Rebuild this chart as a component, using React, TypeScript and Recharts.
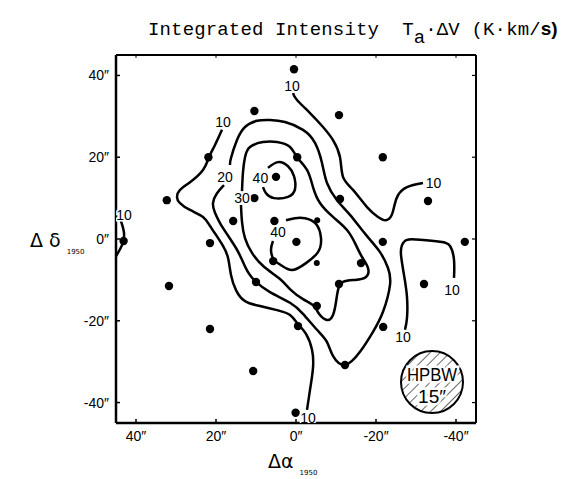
import { ComposedChart, XAxis, YAxis, Line, Scatter, ReferenceDot } from "recharts";

// offsets in arcsec, x = Δα (reversed), y = Δδ
const axisTicks = [-40, -20, 0, 20, 40];

const gridPoints = [
	{ x: 0.5, y: 41.5 }, { x: 10.4, y: 31.3 }, { x: -10.75, y: 30.3 },
	{ x: 21.9, y: 20 }, { x: -0.3, y: 20 }, { x: -21.7, y: 20 },
	{ x: 32.3, y: 9.5 }, { x: 10.4, y: 10 }, { x: -11, y: 9.8 }, { x: -33, y: 9.3 },
	{ x: 5, y: 15.2 }, { x: 15.7, y: 4.4 }, { x: 5.4, y: 4.4 },
	{ x: 43.1, y: -0.5 }, { x: 21.5, y: -1 }, { x: -0.1, y: -0.7 }, { x: -21.7, y: -0.7 }, { x: -42.2, y: -0.7 },
	{ x: 5.7, y: -5.4 }, { x: -16.25, y: -5.9 },
	{ x: 31.75, y: -11.5 }, { x: 10, y: -10.5 }, { x: -10.75, y: -11 }, { x: -32, y: -11 },
	{ x: -5.2, y: -16.4 },
	{ x: 21.5, y: -22 }, { x: -0.5, y: -21.3 }, { x: -21.8, y: -21.5 },
	{ x: 10.7, y: -32.3 }, { x: -12.25, y: -30.8 }, { x: 0.1, y: -42.5 },
];

const innerPoints = [{ x: -5.3, y: 4.6 }, { x: -5.2, y: -5.9 }];

// contour 10 (K km/s)
const contour10Top = [
	{ x: 0.75, y: 35.7 }, { x: -0.25, y: 34.0 }, { x: -3.5, y: 30.8 }, { x: -6.75, y: 27.4 },
	{ x: -9.25, y: 24.2 }, { x: -11, y: 20.0 }, { x: -11.75, y: 15.2 }, { x: -14.25, y: 12.0 },
	{ x: -17.75, y: 7.8 }, { x: -20.5, y: 5.4 }, { x: -22.5, y: 4.6 }, { x: -23.9, y: 5.8 },
	{ x: -24.6, y: 8.2 }, { x: -25.5, y: 10.7 }, { x: -27.75, y: 12.7 }, { x: -31.75, y: 13.7 },
];

const contour10Left = [
	{ x: 18.5, y: 26.7 }, { x: 20.25, y: 23.0 }, { x: 21.75, y: 20.0 }, { x: 23.25, y: 16.9 },
	{ x: 26.5, y: 13.9 }, { x: 29, y: 12.0 }, { x: 29.75, y: 10.3 }, { x: 29, y: 8.8 },
	{ x: 26.5, y: 7.1 }, { x: 23.25, y: 5.4 }, { x: 21.5, y: 3.2 }, { x: 20, y: 1.0 },
	{ x: 18.25, y: -1.7 }, { x: 17, y: -4.6 }, { x: 16.25, y: -8.8 }, { x: 15, y: -12.5 },
	{ x: 12.75, y: -15.2 }, { x: 9, y: -16.4 }, { x: 4.75, y: -17.4 }, { x: 1.5, y: -18.6 },
	{ x: -0.5, y: -20.8 }, { x: -2.5, y: -23.2 }, { x: -4, y: -27.1 }, { x: -4.25, y: -31.5 },
	{ x: -3.5, y: -36.9 }, { x: -2.75, y: -41.8 },
];

const contour10Right = [
	{ x: -27.25, y: -22.2 }, { x: -27.75, y: -19.3 }, { x: -27.75, y: -14.2 }, { x: -27, y: -8.8 },
	{ x: -26.25, y: -3.9 }, { x: -26.5, y: -1.5 }, { x: -27.75, y: -0.2 }, { x: -31, y: -0.2 },
	{ x: -36, y: -0.7 }, { x: -38.5, y: -1.7 }, { x: -39.5, y: -5.1 }, { x: -39.5, y: -9.5 },
];

const contour10Edge = [{ x: 44, y: 5.1 }, { x: 43, y: 1.5 }, { x: 43.5, y: -1.5 }, { x: 45, y: -4.2 }];

const contour20 = [
	{ x: 18, y: 13.2 }, { x: 19.75, y: 11.2 }, { x: 20.75, y: 8.8 }, { x: 20.25, y: 6.4 },
	{ x: 19, y: 3.9 }, { x: 17.25, y: 1.2 }, { x: 15, y: -2.2 }, { x: 13.5, y: -5.1 },
	{ x: 12, y: -8.1 }, { x: 10, y: -10.5 }, { x: 6.5, y: -13.0 }, { x: 1.5, y: -15.6 },
	{ x: -1.75, y: -18.3 }, { x: -5.25, y: -22.2 }, { x: -7.75, y: -25.2 }, { x: -9.25, y: -28.6 },
	{ x: -12.25, y: -30.8 }, { x: -16, y: -27.6 }, { x: -19.25, y: -22.7 }, { x: -21.75, y: -17.8 },
	{ x: -23.5, y: -11.2 }, { x: -23, y: -7.1 }, { x: -21, y: -3.2 }, { x: -17.5, y: 1.0 },
	{ x: -13.5, y: 5.9 }, { x: -10.25, y: 9.5 }, { x: -7.75, y: 13.7 }, { x: -6.5, y: 18.6 },
	{ x: -4.75, y: 23.5 }, { x: -1.75, y: 26.7 }, { x: 2.75, y: 28.6 }, { x: 6.5, y: 29.1 },
	{ x: 9.75, y: 28.9 }, { x: 12.75, y: 27.4 }, { x: 14.75, y: 24.2 }, { x: 16.25, y: 19.8 },
	{ x: 16.5, y: 18.1 },
];

const contour30 = [
	{ x: 13.5, y: 11.7 }, { x: 13.25, y: 16.4 }, { x: 12.75, y: 20.0 }, { x: 11.5, y: 22.5 },
	{ x: 8.25, y: 23.7 }, { x: 4.75, y: 23.7 }, { x: 1.5, y: 22.5 }, { x: -0.25, y: 20.0 },
	{ x: -2.75, y: 16.9 }, { x: -4.25, y: 12.7 }, { x: -6, y: 8.8 }, { x: -9.25, y: 5.4 },
	{ x: -12.75, y: 2.2 }, { x: -15, y: -1.5 }, { x: -16.5, y: -4.4 }, { x: -18, y: -7.1 },
	{ x: -17.5, y: -9.3 }, { x: -14.75, y: -10.0 }, { x: -11.75, y: -10.5 }, { x: -10.5, y: -12.5 },
	{ x: -10, y: -15.4 }, { x: -9.25, y: -18.6 }, { x: -7.75, y: -19.8 }, { x: -5.75, y: -18.3 },
	{ x: -4.5, y: -16.4 }, { x: -1.75, y: -14.7 }, { x: 1.25, y: -12.5 }, { x: 4, y: -9.8 },
	{ x: 8, y: -6.8 }, { x: 11, y: -3.4 }, { x: 12.75, y: 0.2 }, { x: 13.5, y: 4.2 },
	{ x: 13.75, y: 8.3 },
];

const contour40North = [
	{ x: 7, y: 17.4 }, { x: 4.5, y: 18.8 }, { x: 2, y: 17.8 }, { x: 0.5, y: 15.4 },
	{ x: 0.25, y: 12.2 }, { x: 2, y: 10.3 }, { x: 5.5, y: 10.0 }, { x: 7.5, y: 11.2 },
	{ x: 8.25, y: 12.7 },
];

const contour40South = [
	{ x: 2.5, y: 4.6 }, { x: 0.25, y: 5.1 }, { x: -2.25, y: 5.1 }, { x: -5, y: 3.7 },
	{ x: -6.25, y: 0.2 }, { x: -5.5, y: -3.2 }, { x: -2.5, y: -5.9 }, { x: 1, y: -7.6 },
	{ x: 3.75, y: -6.4 }, { x: 5.5, y: -5.1 }, { x: 6.25, y: -2.7 }, { x: 5.75, y: -0.5 },
];

const contourLabels = [
	{ x: 1, y: 37.3, text: "10" },
	{ x: 18.25, y: 28.6, text: "10" },
	{ x: 17.75, y: 15.2, text: "20" },
	{ x: 8.9, y: 14.9, text: "40" },
	{ x: 13.5, y: 10, text: "30" },
	{ x: 4.5, y: 1.7, text: "40" },
	{ x: -34.4, y: 13.7, text: "10" },
	{ x: 43, y: 5.9, text: "10" },
	{ x: -39, y: -12.4, text: "10" },
	{ x: -26.75, y: -24, text: "10" },
	{ x: -3, y: -43.8, text: "10" },
];

const contours = [contour10Top, contour10Left, contour10Right, contour10Edge, contour20, contour30, contour40North, contour40South];

const fmt = (v: number) => `${v}″`;
const tickFont = '"Liberation Sans", Arial, sans-serif';

function BottomTick(props: any) {
	const { x, y, payload } = props;
	return (
		<g>
			<line x1={x} x2={x} y1={y} y2={y - 4} stroke="#000" strokeWidth={1.5} />
			<text x={x} y={y + 18} textAnchor="middle" fontSize={14} fontFamily={tickFont}>{fmt(payload.value)}</text>
		</g>
	);
}

function LeftTick(props: any) {
	const { x, y, payload } = props;
	return (
		<g>
			<line x1={x} x2={x + 4} y1={y} y2={y} stroke="#000" strokeWidth={1.5} />
			<text x={x - 7} y={y + 5} textAnchor="end" fontSize={14} fontFamily={tickFont}>{fmt(payload.value)}</text>
		</g>
	);
}

function TopTick(props: any) {
	const { x, y } = props;
	return <line x1={x} x2={x} y1={y} y2={y + 3} stroke="#000" strokeWidth={1} />;
}

function RightTick(props: any) {
	const { x, y } = props;
	return <line x1={x} x2={x - 4} y1={y} y2={y} stroke="#000" strokeWidth={1.2} />;
}

function Dot(r: number) {
	return (p: any) => <circle cx={p.cx} cy={p.cy} r={r} fill="#000" />;
}

function ContourLabel(p: any) {
	return (
		<text
			x={p.cx}
			y={p.cy + 5}
			textAnchor="middle"
			fontSize={14}
			fontFamily={tickFont}
			stroke="#fff"
			strokeWidth={3}
			paintOrder="stroke"
			fill="#000"
		>
			{p.payload.text}
		</text>
	);
}

function Beam(p: any) {
	const { cx, cy } = p;
	const r = 31;
	return (
		<g>
			<defs>
				<pattern id="hatch" patternUnits="userSpaceOnUse" width={7} height={7} patternTransform="rotate(45)">
					<line x1={0} y1={0} x2={0} y2={7} stroke="#000" strokeWidth={1.2} />
				</pattern>
			</defs>
			<circle cx={cx} cy={cy} r={r} fill="url(#hatch)" stroke="#000" strokeWidth={2} />
			<g fontFamily={tickFont} fontSize={19} textAnchor="middle" stroke="#fff" strokeWidth={5} paintOrder="stroke" fill="#000">
				<text x={cx} y={cy - 1} transform={`translate(${cx * 0.12},0) scale(0.88,1)`}>HPBW</text>
				<text x={cx} y={cy + 21}>15″</text>
			</g>
		</g>
	);
}

export default function App() {
	return (
		<div style={{ position: "absolute", left: 0, top: 0, width: 568, height: 479, background: "#fff" }}>
			<div
				style={{
					position: "absolute",
					left: 148,
					top: 18,
					fontFamily: '"Liberation Mono", monospace',
					fontSize: 19,
					letterSpacing: 0.15,
					whiteSpace: "pre",
					lineHeight: "22px",
				}}
			>
				Integrated Intensity  T<span style={{ position: "relative", top: 8 }}>a</span>·ΔV (K·km/<b style={{ fontFamily: tickFont, letterSpacing: 0 }}>s)</b>
			</div>
			<div style={{ position: "absolute", left: 30, top: 229, fontFamily: '"DejaVu Sans", sans-serif', fontSize: 19, whiteSpace: "pre" }}>
				Δ δ<span style={{ fontSize: 7, position: "relative", top: 7, marginLeft: 6 }}>1950</span>
			</div>
			<div style={{ position: "absolute", left: 268, top: 450, fontFamily: '"DejaVu Sans", sans-serif', fontSize: 19, whiteSpace: "pre" }}>
				Δα<span style={{ fontSize: 7, position: "relative", top: 7, marginLeft: 6 }}>1950</span>
			</div>
			<ComposedChart width={568} height={479} margin={{ top: 54, right: 91, bottom: 55, left: 115 }} style={{ position: "absolute", left: 0, top: 0 }}>
				<XAxis
					dataKey="x"
					type="number"
					domain={[-45, 45]}
					reversed
					allowDataOverflow
					ticks={axisTicks}
					height={1}
					tickSize={0}
					tickMargin={0}
					tick={<BottomTick />}
					axisLine={{ stroke: "#000", strokeWidth: 2.5 }}
					tickLine={false}
				/>
				<XAxis
					xAxisId="top"
					orientation="top"
					dataKey="x"
					type="number"
					domain={[-45, 45]}
					reversed
					allowDataOverflow
					ticks={axisTicks}
					height={1}
					tickSize={0}
					tickMargin={0}
					tick={<TopTick />}
					axisLine={{ stroke: "#000", strokeWidth: 2 }}
					tickLine={false}
				/>
				<YAxis
					dataKey="y"
					type="number"
					domain={[-45, 45]}
					allowDataOverflow
					ticks={axisTicks}
					width={1}
					tickSize={0}
					tickMargin={0}
					tick={<LeftTick />}
					axisLine={{ stroke: "#000", strokeWidth: 2.5 }}
					tickLine={false}
				/>
				<YAxis
					yAxisId="right"
					orientation="right"
					dataKey="y"
					type="number"
					domain={[-45, 45]}
					allowDataOverflow
					ticks={axisTicks}
					width={1}
					tickSize={0}
					tickMargin={0}
					tick={<RightTick />}
					axisLine={{ stroke: "#000", strokeWidth: 2 }}
					tickLine={false}
				/>
				{contours.map((c, i) => (
					<Line
						key={i}
						data={c}
						dataKey="y"
						type="natural"
						stroke="#000"
						strokeWidth={2.5}
						dot={false}
						activeDot={false}
						isAnimationActive={false}
					/>
				))}
				<Scatter data={gridPoints} dataKey="y" shape={Dot(4.2)} isAnimationActive={false} />
				<Scatter data={innerPoints} dataKey="y" shape={Dot(3)} isAnimationActive={false} />
				<Scatter data={contourLabels} dataKey="y" shape={ContourLabel} isAnimationActive={false} />
				<ReferenceDot x={-34} y={-35} r={31} shape={Beam} />
			</ComposedChart>
		</div>
	);
}
